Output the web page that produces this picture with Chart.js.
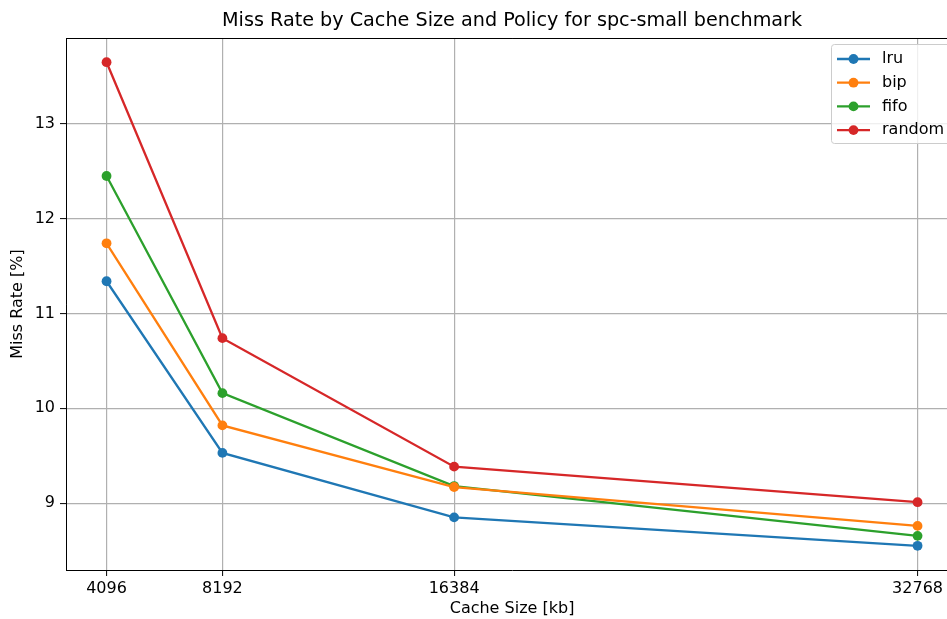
<!DOCTYPE html>
<html>
<head>
<meta charset="utf-8">
<script src="https://cdn.jsdelivr.net/npm/chart.js@4/dist/chart.umd.min.js"></script>
<style>
  html, body { margin: 0; padding: 0; background: #fff; overflow: hidden; }
  #wrap { width: 947px; height: 619px; overflow: hidden; }
</style>
</head>
<body>
<div id="wrap"><canvas id="missChart" width="963" height="619"></canvas></div>
<script>
// cache sizes (kb) and miss rates (%) per policy
const cacheSizes = [4096, 8192, 16384, 32768];
const lru    = [11.34, 9.53, 8.85, 8.55];
const bip    = [11.74, 9.82, 9.17, 8.76];
const fifo   = [12.45, 10.16, 9.18, 8.655];
const random = [13.65, 10.74, 9.385, 9.01];
const yTicks = [9, 10, 11, 12, 13];

const FONT = "'DejaVu Sans', sans-serif";

function series(label, values, color) {
    return {
        label: label,
        data: cacheSizes.map((s, i) => ({ x: s, y: values[i] })),
        borderColor: color,
        backgroundColor: color,
        borderWidth: 2.3,
        pointRadius: 4.9,
        pointHoverRadius: 4.9,
        pointBorderWidth: 0,
        pointBackgroundColor: color,
        tension: 0
    };
}

// title, axis titles, top spine and matplotlib style legend
const decorations = {
    id: "decorations",
    afterDraw(chart) {
        const ctx = chart.ctx;
        const a = chart.chartArea;
        ctx.save();

        // top spine
        ctx.strokeStyle = "#000";
        ctx.lineWidth = 1;
        ctx.beginPath();
        ctx.moveTo(a.left, a.top + 0.5);
        ctx.lineTo(a.right, a.top + 0.5);
        ctx.stroke();

        ctx.fillStyle = "#000";
        ctx.textAlign = "center";
        ctx.textBaseline = "middle";
        ctx.font = "19.2px " + FONT;
        ctx.fillText("Miss Rate by Cache Size and Policy for spc-small benchmark", (a.left + a.right) / 2, 21);

        ctx.font = "16px " + FONT;
        ctx.fillText("Cache Size [kb]", (a.left + a.right) / 2, 609);

        ctx.save();
        ctx.translate(18, (a.top + a.bottom) / 2);
        ctx.rotate(-Math.PI / 2);
        ctx.fillText("Miss Rate [%]", 0, 0);
        ctx.restore();

        // legend
        const bx = 831, by = a.top + 6;
        const bw = a.right - 7 - bx, bh = 99;
        ctx.beginPath();
        ctx.roundRect(bx + 0.5, by + 0.5, bw, bh, 3);
        ctx.fillStyle = "rgba(255,255,255,0.8)";
        ctx.fill();
        ctx.strokeStyle = "#cccccc";
        ctx.lineWidth = 1;
        ctx.stroke();

        ctx.textAlign = "left";
        ctx.font = "16px " + FONT;
        chart.data.datasets.forEach((ds, i) => {
            const y = by + 15 + i * 23.7;
            ctx.strokeStyle = ds.borderColor;
            ctx.lineWidth = 2.3;
            ctx.beginPath();
            ctx.moveTo(bx + 6, y);
            ctx.lineTo(bx + 39, y);
            ctx.stroke();
            ctx.fillStyle = ds.borderColor;
            ctx.beginPath();
            ctx.arc(bx + 22.5, y, 4.9, 0, Math.PI * 2);
            ctx.fill();
            ctx.fillStyle = "#000";
            ctx.fillText(ds.label, bx + 51, y);
        });

        ctx.restore();
    }
};

const tickFont = { family: FONT, size: 16 };

new Chart(
    document.getElementById("missChart"),
    {
        type: "line",
        data: {
            datasets: [
                series("lru", lru, "#1f77b4"),
                series("bip", bip, "#ff7f0e"),
                series("fifo", fifo, "#2ca02c"),
                series("random", random, "#d62728")
            ]
        },
        options: {
            responsive: false,
            animation: false,
            devicePixelRatio: 1,
            layout: { padding: { top: 38, right: 1, left: 0, bottom: 0 } },
            plugins: {
                legend: { display: false },
                title: { display: false },
                tooltip: { enabled: false }
            },
            scales: {
                x: {
                    type: "linear",
                    min: 2662.4,
                    max: 34201.6,
                    afterBuildTicks: s => { s.ticks = cacheSizes.map(v => ({ value: v })); },
                    afterFit: s => { s.height = 49; },
                    ticks: {
                        color: "#000",
                        font: tickFont,
                        padding: 3,
                        maxRotation: 0,
                        autoSkip: false,
                        callback: v => String(v)
                    },
                    grid: { color: "#b0b0b0", lineWidth: 1.2, tickColor: "#000", tickLength: 6, tickWidth: 1 },
                    border: { color: "#000", width: 1 }
                },
                y: {
                    min: 8.295,
                    max: 13.905,
                    afterBuildTicks: s => { s.ticks = yTicks.map(v => ({ value: v })); },
                    afterFit: s => { s.width = 66; },
                    ticks: {
                        color: "#000",
                        font: tickFont,
                        padding: 5,
                        callback: v => String(v)
                    },
                    grid: { color: "#b0b0b0", lineWidth: 1.2, tickColor: "#000", tickLength: 6, tickWidth: 1 },
                    border: { color: "#000", width: 1 }
                }
            }
        },
        plugins: [decorations]
    }
);
</script>
</body>
</html>
